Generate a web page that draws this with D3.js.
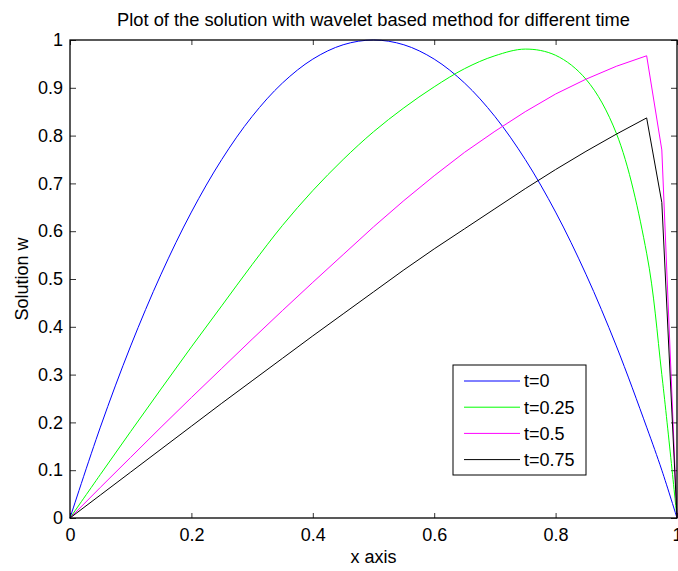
<!DOCTYPE html>
<html>
<head>
<meta charset="utf-8">
<script src="https://cdn.jsdelivr.net/npm/d3@7"></script>
<style>
  body { margin: 0; background: #fff; }
  svg text { font-family: "Liberation Sans", Arial, Helvetica, sans-serif; fill: #000; }
</style>
</head>
<body>
<svg id="chart" width="678" height="571"></svg>
<script>
// x positions of the solution nodes
var xValues = [0, 0.05, 0.1, 0.15, 0.2, 0.25, 0.3, 0.35, 0.4, 0.45, 0.5,
               0.55, 0.6, 0.65, 0.7, 0.75, 0.8, 0.85, 0.9, 0.95, 0.975, 1];

// solution w, one array per time
var wT0 = [0, 0.19, 0.36, 0.51, 0.64, 0.75, 0.84, 0.91, 0.96, 0.99, 1.0,
           0.99, 0.96, 0.91, 0.84, 0.75, 0.64, 0.51, 0.36, 0.19, 0.10, 0];
var wT025 = [0, 0.091, 0.181, 0.270, 0.358, 0.444, 0.530, 0.612, 0.685, 0.750, 0.808,
             0.858, 0.902, 0.940, 0.967, 0.981, 0.968, 0.918, 0.805, 0.554, 0.30, 0];
var wT05 = [0, 0.064, 0.127, 0.190, 0.252, 0.313, 0.374, 0.434, 0.493, 0.551, 0.609,
            0.664, 0.716, 0.765, 0.809, 0.850, 0.887, 0.918, 0.945, 0.967, 0.77, 0];
var wT075 = [0, 0.048, 0.096, 0.144, 0.192, 0.240, 0.287, 0.334, 0.381, 0.427, 0.473,
             0.519, 0.563, 0.605, 0.647, 0.689, 0.729, 0.767, 0.803, 0.837, 0.66, 0];

var seriesNames = ["t=0", "t=0.25", "t=0.5", "t=0.75"];
var seriesColors = ["#0000ff", "#00ff00", "#ff00ff", "#000000"];
var seriesValues = [wT0, wT025, wT05, wT075];
// the first two curves look smooth, the last two have a sharp corner near x=0.95
var seriesCurves = [d3.curveCatmullRom, d3.curveCatmullRom, d3.curveLinear, d3.curveLinear];

var xTicks = [0, 0.2, 0.4, 0.6, 0.8, 1];
var yTicks = [0, 0.1, 0.2, 0.3, 0.4, 0.5, 0.6, 0.7, 0.8, 0.9, 1];

var svg = d3.select("#chart");
// plot box edges (avoid the name "top", it is window.top)
var pLeft = 70, pRight = 677, pTop = 40, pBottom = 518;

var x = d3.scaleLinear().domain([0, 1]).range([pLeft, pRight]);
var y = d3.scaleLinear().domain([0, 1]).range([pBottom, pTop]);
var fmt = d3.format("~g");

// axes with inward ticks on all four sides
svg.append("g")
    .attr("transform", "translate(0," + pBottom + ")")
    .call(d3.axisBottom(x).tickValues(xTicks).tickFormat(fmt).tickSizeInner(-5).tickSizeOuter(0).tickPadding(10))
    .call(function(g){ g.selectAll("text").attr("font-size", 18); });
svg.append("g")
    .attr("transform", "translate(0," + pTop + ")")
    .call(d3.axisTop(x).tickValues(xTicks).tickFormat("").tickSizeInner(-5).tickSizeOuter(0));
svg.append("g")
    .attr("transform", "translate(" + pLeft + ",0)")
    .call(d3.axisLeft(y).tickValues(yTicks).tickFormat(fmt).tickSizeInner(-6).tickSizeOuter(0).tickPadding(7))
    .call(function(g){ g.selectAll("text").attr("font-size", 18); });
svg.append("g")
    .attr("transform", "translate(" + pRight + ",0)")
    .call(d3.axisRight(y).tickValues(yTicks).tickFormat("").tickSizeInner(-6).tickSizeOuter(0));

svg.selectAll(".domain").remove();
svg.selectAll(".tick line").attr("stroke", "#333");
svg.selectAll("g").attr("font-family", null);

seriesValues.forEach(function(vals, k){
    var line = d3.line()
        .x(function(d, i){ return x(xValues[i]); })
        .y(function(d){ return y(d); })
        .curve(seriesCurves[k]);
    svg.append("path")
        .attr("d", line(vals))
        .attr("fill", "none")
        .attr("stroke", seriesColors[k])
        .attr("stroke-width", 1);
});

// box
svg.append("rect")
    .attr("x", pLeft).attr("y", pTop)
    .attr("width", pRight - pLeft).attr("height", pBottom - pTop)
    .attr("fill", "none").attr("stroke", "#000").attr("stroke-width", 1.3);

// titles
svg.append("text")
    .attr("x", (pLeft + pRight) / 2).attr("y", 26)
    .attr("text-anchor", "middle").attr("font-size", 18.3)
    .text("Plot of the solution with wavelet based method for different time");
svg.append("text")
    .attr("x", (pLeft + pRight) / 2).attr("y", 563)
    .attr("text-anchor", "middle").attr("font-size", 18)
    .text("x axis");
svg.append("text")
    .attr("transform", "translate(28," + ((pTop + pBottom) / 2) + ") rotate(-90)")
    .attr("text-anchor", "middle").attr("font-size", 18)
    .text("Solution w");

// legend
var legend = svg.append("g").attr("transform", "translate(453,365)");
legend.append("rect")
    .attr("width", 133).attr("height", 110)
    .attr("fill", "#fff").attr("stroke", "#000").attr("stroke-width", 1);
seriesNames.forEach(function(name, k){
    var ly = 16 + k * 26.2;
    legend.append("line")
        .attr("x1", 11).attr("x2", 67).attr("y1", ly).attr("y2", ly)
        .attr("stroke", seriesColors[k]).attr("stroke-width", 1);
    legend.append("text")
        .attr("x", 71).attr("y", ly).attr("dy", "0.35em")
        .attr("font-size", 18)
        .text(name);
});
</script>
</body>
</html>
